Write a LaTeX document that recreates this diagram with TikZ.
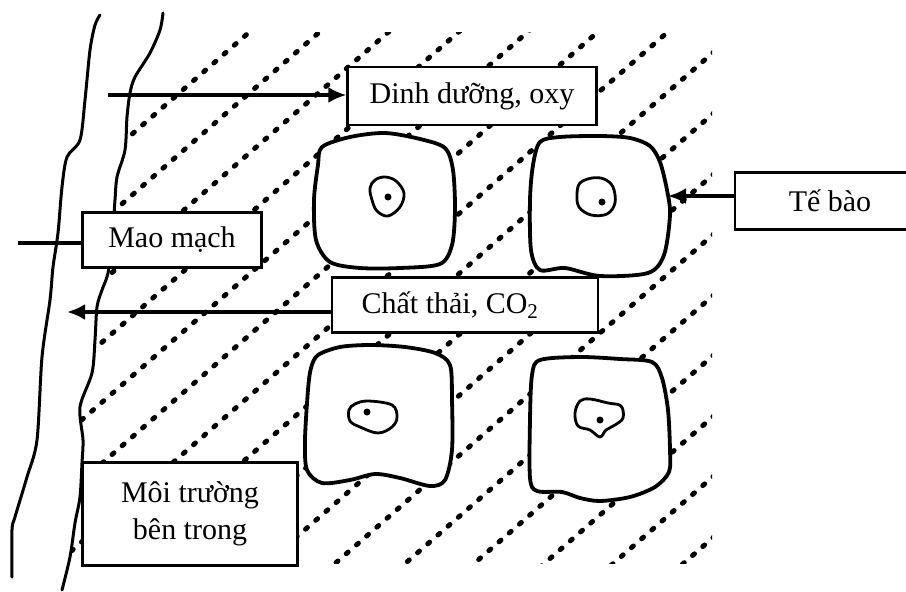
\documentclass[tikz,border=0pt]{standalone}
\usepackage{fontspec}
\setmainfont{Liberation Serif}
\usetikzlibrary{arrows.meta,positioning}

\tikzset{
  labelbox/.style={draw, line width=2.2pt, fill=white, inner sep=0pt, align=center,
    font=\fontsize{30pt}{37pt}\selectfont},
  wall/.style={line width=3pt, line join=round, line cap=round},
  cellwall/.style={line width=3.8pt, fill=white, line join=round},
  nucleus/.style={line width=2.8pt, line join=round},
  hatch/.style={line width=5pt, line cap=round, dash pattern=on 2.5pt off 11pt},
  flow/.style={line width=3.5pt, -{Latex[length=18pt,width=16pt]}}
}

\begin{document}
\begin{tikzpicture}[x=1pt, y=-1pt]
\useasboundingbox (0,0) rectangle (906,592);

% Internal medium (dashed hatching right of the capillary)
\begin{scope}
\clip (0,32) rectangle (712,563);
\clip plot[smooth, tension=0.5] coordinates {(163,13) (160,30) (150,53) (135,77) (130,93) (127,117) (125,150) (117,177) (115,200) (112,240) (108,273) (102,290) (97,307) (95,340) (92,373) (80,407) (83,440) (82,463) (80,497) (75,523) (70,557) (62,590)} -- (800,590) -- (800,0) -- cycle;
\draw[hatch] (0,249) -- +(800,-696) (0,310) -- +(800,-696) (0,370) -- +(800,-696)
  (0,431) -- +(800,-696) (0,491) -- +(800,-696) (0,552) -- +(800,-696)
  (0,613) -- +(800,-696) (0,673) -- +(800,-696) (0,734) -- +(800,-696)
  (0,795) -- +(800,-696) (0,855) -- +(800,-696) (0,916) -- +(800,-696)
  (0,976) -- +(800,-696) (0,1037) -- +(800,-696) (0,1097) -- +(800,-696)
  (0,1158) -- +(800,-696);
\end{scope}

% Capillary walls
\draw[wall] plot[smooth, tension=0.5] coordinates {(100,15) (95,25) (90,50) (85,100) (80,140) (67,157) (62,187) (58,233) (53,267) (50,300) (42,357) (37,440) (27,477) (15,517) (12,530) (12,577)};
\draw[wall] plot[smooth, tension=0.5] coordinates {(163,13) (160,30) (150,53) (135,77) (130,93) (127,117) (125,150) (117,177) (115,200) (112,240) (108,273) (102,290) (97,307) (95,340) (92,373) (80,407) (83,440) (82,463) (80,497) (75,523) (70,557) (62,590)};

% Cells with nuclei
\draw[cellwall] plot[smooth cycle, tension=0.5] coordinates {(322,147) (350,137) (385,133) (420,139) (445,148) (453,170) (455,210) (452,245) (440,264) (400,268) (360,268) (330,262) (316,240) (314,200) (318,165)};
\draw[nucleus] plot[smooth cycle, tension=0.6] coordinates {(375,180) (385,177) (396,181) (404,193) (400,207) (388,216) (377,211) (372,200) (370,188)};
\fill (388,197) circle (3.5pt);

\draw[cellwall] plot[smooth cycle, tension=0.5] coordinates {(540,142) (560,137) (600,136) (630,138) (650,146) (660,162) (667,190) (670,215) (664,255) (648,273) (600,276) (565,268) (540,270) (531,250) (530,200) (533,165)};
\draw[nucleus] plot[smooth cycle, tension=0.6] coordinates {(580,183) (592,178) (604,179) (613,187) (615,203) (607,214) (591,215) (579,207) (577,194)};
\fill (602,202) circle (3.5pt);

\draw[cellwall] plot[smooth cycle, tension=0.5] coordinates {(318,355) (340,347) (370,345) (405,347) (435,353) (450,365) (452,400) (452,450) (445,480) (430,486) (400,478) (375,474) (350,480) (322,483) (307,470) (305,440) (308,390) (311,368)};
\draw[nucleus] plot[smooth cycle, tension=0.6] coordinates {(355,404) (368,401) (392,405) (397,417) (392,427) (378,433) (360,427) (350,421) (349,410)};
\fill (367,412) circle (3.5pt);

\draw[cellwall] plot[smooth cycle, tension=0.5] coordinates {(540,360) (580,357) (620,359) (652,362) (662,378) (668,410) (670,450) (669,472) (655,487) (630,497) (600,501) (580,498) (562,492) (537,491) (530,478) (530,420) (532,375)};
\draw[nucleus] plot[smooth cycle, tension=0.6] coordinates {(580,401) (590,399) (608,403) (621,406) (623,418) (615,425) (606,430) (600,437) (590,430) (578,426) (575,413)};
\fill (600,420) circle (3.5pt);

% Labels
\node[labelbox, minimum width=249pt, minimum height=58pt] (nutri) at (472,96) {Dinh dưỡng, oxy};
\node[labelbox, minimum width=179pt, minimum height=55pt] (capbox) at (172,240) {Mao mạch};
\node[labelbox, minimum width=190pt, minimum height=57pt] (cellbox) at (830,201) {Tế bào};
\node[labelbox, minimum width=266pt, minimum height=55pt] (waste) at (465,305) {Chất thải, CO\textsubscript{2}\hspace*{30pt}};
\node[labelbox, minimum width=215pt, minimum height=103pt] (milieu) at (190,514) {Môi trường\\bên trong};

% Exchange arrows
\coordinate (nutin) at (108,95);
\coordinate (wasteout) at (67,312);
\coordinate (cellB) at (668,196);
\coordinate (capin) at (18,243);
\draw[flow] (nutin) -- (nutri.west |- nutin);
\draw[flow] (waste.west |- wasteout) -- (wasteout);
\draw[flow] (cellbox.west |- cellB) -- (cellB);
\draw[line width=3.5pt] (capin) -- (capbox.west |- capin);

\end{tikzpicture}
\end{document}
